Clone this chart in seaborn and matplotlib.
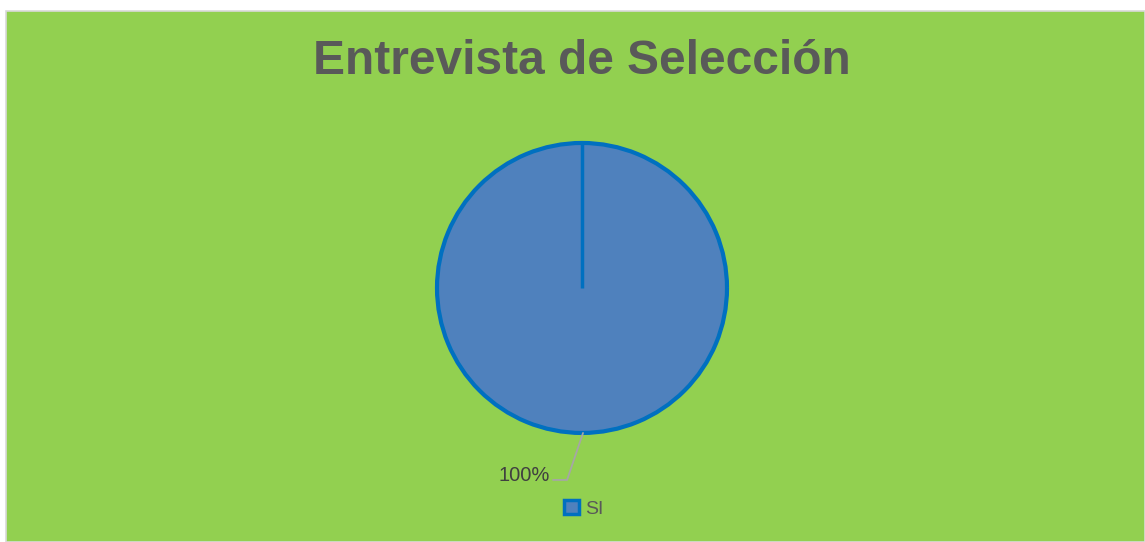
"""Pie chart: Entrevista de Selección."""

import matplotlib.pyplot as plt
from matplotlib.patches import Rectangle, Patch
import numpy as np
import seaborn as sns

categories = ["SI"]
values = [100]
pct_labels = ["100%"]

GREEN = "#92D050"
FILL = "#4F81BD"
EDGE = "#0070C0"
TEXT = "#595959"

sns.set_theme(style="white")
plt.rcParams["font.family"] = ["Liberation Sans", "DejaVu Sans"]

fig = plt.figure(figsize=(11.45, 5.42), dpi=100)
fig.patch.set_facecolor("white")

# green chart area with thin grey border
fig.patches.append(Rectangle((6 / 1145, 0), 1 - 6 / 1145, 1 - 11 / 542,
                             transform=fig.transFigure, facecolor=GREEN,
                             edgecolor="#D9D9D9", lw=1.2, zorder=-5))

ax = fig.add_axes([0.369, 0.1744, 0.2786, 0.5886])
ax.set_zorder(2)
ax.set_facecolor("none")
wedges, _ = ax.pie(values, colors=[FILL], startangle=90, counterclock=False,
                   radius=1.0,
                   wedgeprops={"edgecolor": EDGE, "linewidth": 3})
# Excel-style seam from the centre to the start of the slice
ax.plot([0, 0], [0, 1], color=EDGE, lw=2.5, solid_capstyle="butt", zorder=3)
ax.set_xlim(-1.1, 1.1)
ax.set_ylim(-1.1, 1.1)
ax.set_aspect("equal")
ax.axis("off")

# data label with leader line
ax.plot([0.007, -0.103, -0.2], [-1.0, -1.324, -1.324], color="#A6A6A6",
        lw=1.3, clip_on=False, zorder=1)
ax.text(-0.225, -1.29, pct_labels[0], ha="right", va="center",
        fontsize=14.5, color="#404040", clip_on=False)

fig.text(582 / 1145, 1 - 62 / 542, "Entrevista de Selección", ha="center",
         va="center", fontsize=34.5, fontweight="bold", color=TEXT)

handles = [Patch(facecolor=FILL, edgecolor=EDGE, linewidth=2.5, label=c)
           for c in categories]
fig.legend(handles=handles, loc="center", bbox_to_anchor=(584 / 1145, 1 - 509 / 542),
           frameon=False, fontsize=14, handlelength=0.75, handleheight=0.75,
           handletextpad=0.35, labelcolor=TEXT)

fig.savefig("out.png", dpi=100)
